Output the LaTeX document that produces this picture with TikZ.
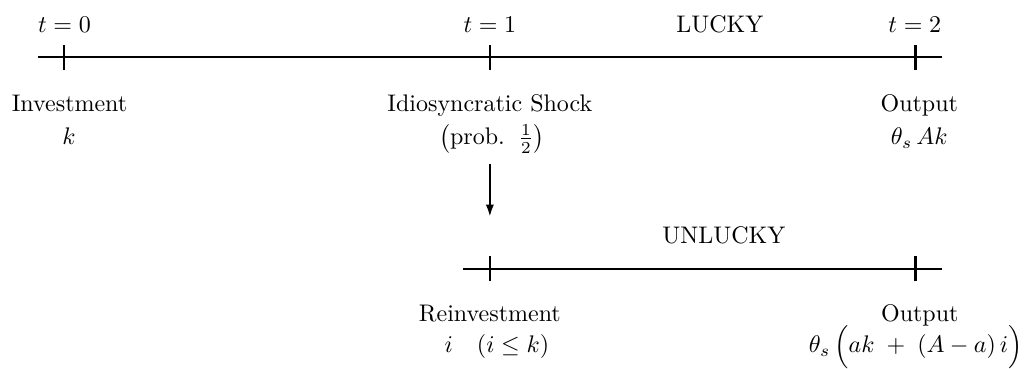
\documentclass[tikz,border=0pt]{standalone}
\usepackage{amsmath}
\usepackage{amssymb}
\usepackage{tikz}
\usetikzlibrary{arrows.meta}

\begin{document}
\begin{tikzpicture}[
  axis/.style={line width=0.9pt},
  tickmark/.style={line width=1.1pt},
  lbl/.style={anchor=base, inner sep=0pt},
  shock/.style={-{Latex[length=1.8mm, width=1.2mm]}, line width=0.9pt},
]
\useasboundingbox (0,0) rectangle (15.04,-5.40);
% lucky timeline
\coordinate (la) at (0.556,-0.835);
\coordinate (lb) at (13.792,-0.835);
\coordinate (t0) at (0.937,-0.835);
\coordinate (t1) at (7.174,-0.835);
\coordinate (t2) at (13.407,-0.835);
% unlucky timeline
\coordinate (ua) at (6.779,-3.939);
\coordinate (ub) at (13.792,-3.939);
\coordinate (u1) at (7.174,-3.939);
\coordinate (u2) at (13.407,-3.939);
\coordinate (shockend) at (7.174,-3.177);
\draw[axis] (la) -- (lb);
\draw[axis] (ua) -- (ub);
\foreach \c in {t0,t1,t2,u1,u2}
  \draw[tickmark] ([yshift=-0.183cm]\c) -- ([yshift=0.183cm]\c);
% dates
\node[lbl] (d0) at (0.944,-0.469) {$t=0$};
\node[lbl] (d1) at (7.174,-0.469) {$t=1$};
\node[lbl] (d2) at (13.397,-0.469) {$t=2$};
\node[lbl] (lucky) at (10.542,-0.469) {LUCKY};
\node[lbl] (unlucky) at (10.600,-3.572) {UNLUCKY};
% labels under the lucky timeline
\node[lbl] (inv) at (1.018,-1.640) {Investment};
\node[lbl] (invk) at (1.010,-2.123) {$k$};
\node[lbl] (idio) at (7.174,-1.640) {Idiosyncratic Shock};
\node[lbl] (prob) at (7.203,-2.123) {$\bigl(\text{prob.}\;\;\tfrac{1}{2}\bigr)$};
\node[lbl] (out) at (13.463,-1.640) {Output};
\node[lbl] (outv) at (13.463,-2.123) {$\theta_s\,Ak$};
% labels under the unlucky timeline
\node[lbl] (reinv) at (7.174,-4.714) {Reinvestment};
\node[lbl] (reinvi) at (7.277,-5.168) {$i\quad(i\le k)$};
\node[lbl] (out2) at (13.470,-4.714) {Output};
\node[lbl] (out2v) at (13.410,-5.168) {$\theta_s\,\Bigl(ak\;+\;(A-a)\,i\Bigr)$};
% shock
\draw[shock] (prob.south -| shockend) ++(0,-0.155) -- (shockend);
\end{tikzpicture}
\end{document}
